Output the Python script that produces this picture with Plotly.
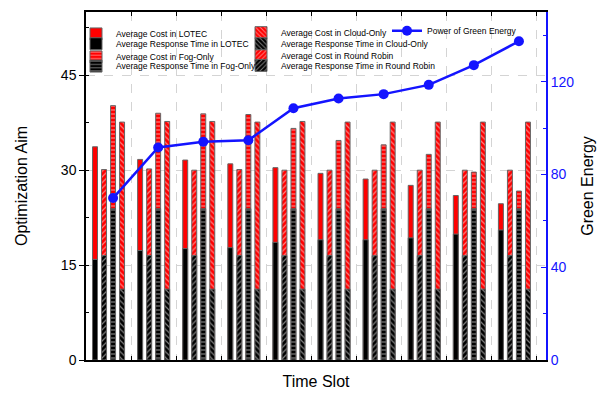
import plotly.graph_objects as go

# ---- data ----
time_slots = [1, 2, 3, 4, 5, 6, 7, 8, 9, 10]

lotec_cost = [33.7, 31.7, 31.6, 31.0, 30.4, 29.5, 28.6, 27.6, 26.0, 24.7]
lotec_rt = [15.9, 17.3, 17.6, 17.75, 18.6, 19.0, 19.0, 19.3, 19.9, 20.55]

rr_cost = [30.1, 30.2, 30.0, 30.1, 30.0, 30.0, 30.0, 30.0, 30.0, 30.0]
rr_rt = [16.5, 16.5, 16.5, 16.5, 16.5, 16.5, 16.5, 16.5, 16.5, 16.5]

fog_cost = [40.2, 39.0, 38.9, 38.8, 36.6, 34.7, 34.0, 32.5, 29.7, 26.7]
fog_rt = [23.9, 23.9, 23.9, 23.9, 23.9, 23.9, 23.9, 23.9, 23.9, 23.9]

cloud_cost = [37.6, 37.7, 37.7, 37.6, 37.7, 37.6, 37.6, 37.6, 37.6, 37.6]
cloud_rt = [11.2, 11.2, 11.2, 11.2, 11.2, 11.2, 11.2, 11.2, 11.2, 11.2]

green_energy = [69.8, 91.6, 94.1, 94.7, 108.5, 112.7, 114.6, 118.6, 127.1, 137.4]

FONT = "Liberation Sans, Arial, sans-serif"
BLUE = "#1414ff"

# legend row positions (pixels from top) -> paper coords
PLOT_TOP, PLOT_BOTTOM = 10, 364
def py(p):
    return (PLOT_BOTTOM - p) / (PLOT_BOTTOM - PLOT_TOP)
def px(p):
    return (p - 86) / 460

methods = [
    # name, pattern, cost, rt, offset, cost legend, rt legend
    ("LOTEC", "", lotec_cost, lotec_rt, -0.3, "legend", "legend2"),
    ("Round Robin", "/", rr_cost, rr_rt, -0.1, "legend7", "legend8"),
    ("Fog-Only", "-", fog_cost, fog_rt, 0.1, "legend3", "legend4"),
    ("Cloud-Only", "\\", cloud_cost, cloud_rt, 0.3, "legend5", "legend6"),
]

fig = go.Figure()
BAR_W = 0.11
for name, shape, cost, rt, off, lg_c, lg_r in methods:
    xs = [s + off for s in time_slots]
    fig.add_trace(go.Bar(
        x=xs, y=cost, width=BAR_W, name=f"Average Cost in {name}",
        legend=lg_c, showlegend=True,
        marker=dict(color="#ff0000", line=dict(color="#666666", width=1),
                    pattern=dict(shape=shape, fgcolor="white", size=4, solidity=0.3)),
    ))
    fig.add_trace(go.Bar(
        x=xs, y=rt, width=BAR_W, name=f"Average Response Time in {name}",
        legend=lg_r, showlegend=True,
        marker=dict(color="#000000", line=dict(color="#666666", width=1),
                    pattern=dict(shape=shape, fgcolor="white", size=4, solidity=0.3)),
    ))

fig.add_trace(go.Scatter(
    x=[s + 0.1 for s in time_slots], y=green_energy, yaxis="y2",
    mode="lines+markers", name="Power of Green Energy", legend="legend9",
    showlegend=True,
    line=dict(color=BLUE, width=2.5), marker=dict(color=BLUE, size=10),
))

leg_font = dict(family=FONT, size=8.5, color="black")
def leg(xp, yp):
    return dict(x=px(xp - 40), y=py(yp), xanchor="left", yanchor="middle",
                bgcolor="rgba(0,0,0,0)", borderwidth=0, font=leg_font,
                itemwidth=30, visible=True)

x_ticks = [s - 0.5 for s in time_slots] + [time_slots[-1] + 0.5]

fig.update_layout(
    width=613, height=396,
    margin=dict(l=86, r=67, t=10, b=32),
    paper_bgcolor="white", plot_bgcolor="white",
    barmode="overlay",
    showlegend=True,
    font=dict(family=FONT, size=14, color="black"),
    legend=leg(116, 32.3),
    legend2=leg(116, 42.3),
    legend3=leg(116, 55.7),
    legend4=leg(116, 65.0),
    legend5=leg(281, 31.0),
    legend6=leg(281, 42.3),
    legend7=leg(281, 54.3),
    legend8=leg(281, 64.3),
    legend9=leg(427, 29.0),
    xaxis=dict(
        range=[0.5, 10.7], tickvals=x_ticks, showticklabels=False,
        ticks="inside", ticklen=4, tickcolor="black",
        showline=True, linecolor="black", linewidth=1.5, mirror="ticks",
        showgrid=True, gridcolor="#d4d4d4", griddash="dash", gridwidth=1,
        zeroline=False,
        title=dict(text="Time Slot", font=dict(size=16), standoff=15),
    ),
    yaxis=dict(
        range=[0, 55], tick0=0, dtick=15,
        ticks="outside", ticklen=5, tickcolor="black",
        showline=True, linecolor="black", linewidth=1.5,
        showgrid=True, gridcolor="#d4d4d4", griddash="dash", gridwidth=1,
        zeroline=False,
        minor=dict(dtick=7.5, ticks="inside", ticklen=3, tickcolor="black", showgrid=False),
        tickfont=dict(size=14),
        title=dict(text="Optimization Aim", font=dict(size=16), standoff=29),
    ),
    yaxis2=dict(
        overlaying="y", side="right", anchor="x",
        range=[0, 150], tick0=0, dtick=40,
        ticks="inside", ticklen=5, tickcolor=BLUE,
        showline=True, linecolor=BLUE, linewidth=2,
        showgrid=False, zeroline=False,
        minor=dict(dtick=20, ticks="inside", ticklen=3, tickcolor=BLUE, showgrid=False),
        tickfont=dict(size=14, color=BLUE),
        title=dict(text="Green Energy", font=dict(size=16, color="black"), standoff=8),
    ),
)

fig.write_html("out.html", config={"displayModeBar": False},
               post_script="document.body.style.margin='0';")
